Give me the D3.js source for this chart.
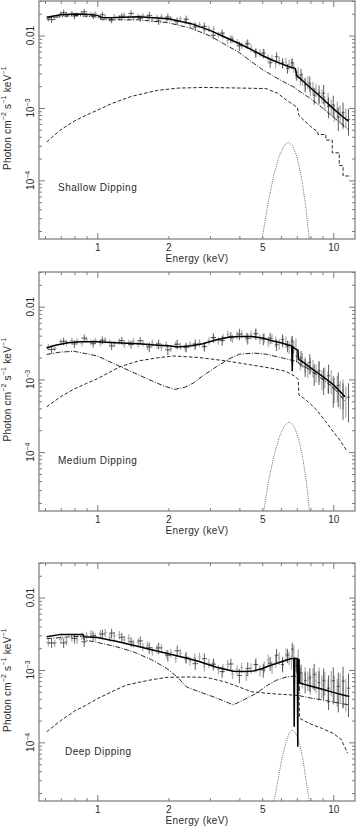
<!DOCTYPE html>
<html><head><meta charset="utf-8">
<script src="https://cdn.jsdelivr.net/npm/d3@7"></script>
<style>
body{margin:0;background:#fff;}
svg{display:block;}
text{font-family:"Liberation Sans",Arial,sans-serif;fill:#2a2a2a;}
</style>
</head><body>
<svg id="c" width="358" height="831"></svg>
<script>
// ---------------- DATA ----------------
const panelNames = ["Shallow Dipping", "Medium Dipping", "Deep Dipping"];
const xLabelTicks = [1, 2, 5, 10];
const xMajorTicks = [1, 10];
const xMinorTicks = [0.6, 0.7, 0.8, 0.9, 2, 3, 4, 5, 6, 7, 8, 9];
const yMajorTicks = [1e-4, 1e-3, 1e-2];
const yMinorTicks = [2e-5,3e-5,4e-5,5e-5,6e-5,7e-5,8e-5,9e-5,2e-4,3e-4,4e-4,5e-4,6e-4,7e-4,8e-4,9e-4,2e-3,3e-3,4e-3,5e-3,6e-3,7e-3,8e-3,9e-3,2e-2,3e-2];
const yTickLabels = [{v:1e-2, base:"0.01", exp:""}, {v:1e-3, base:"10", exp:"−3"}, {v:1e-4, base:"10", exp:"−4"}];

// energies of the two data sets (keV)
const energiesGray = [0.62,0.66,0.70,0.74,0.78,0.82,0.86,0.90,0.94,0.98,
 1.03,1.08,1.13,1.18,1.24,1.30,1.36,1.42,1.49,1.56,
 1.63,1.71,1.79,1.87,1.96,2.05,2.15,2.25,2.36,2.47,
 2.59,2.71,2.84,2.97,3.11,3.26,3.41,3.57,3.74,3.91,
 4.09,4.28,4.48,4.68,4.89,5.10,5.30,5.50,5.70,5.90,
 6.10,6.30,6.50,6.65,6.80,6.95,7.10,7.25,7.40,7.60,
 7.80,8.00,8.20,8.45,8.70,8.95,9.20,9.50,9.80,10.10,
 10.40,10.70,11.00,11.30];
const energiesBlack = [0.64,0.72,0.80,0.88,0.96,1.05,1.15,1.27,1.39,1.52,
 1.66,1.82,1.99,2.18,2.38,2.60,2.84,3.10,3.38,3.68,
 4.00,4.34,4.70,5.05,5.40,5.75,6.10,6.40,6.70,7.00,
 7.30,7.60,7.95,8.30,8.70,9.10,9.55,10.00,10.50,11.00,
 11.60];

// Shallow dipping
const shallowGrayFlux = [.0166,.0178,.0200,.0190,.0208,.0196,.0206,.0189,.0198,.0202,
 .0178,.0178,.0167,.0184,.0178,.0192,.0176,.0174,.0187,.0190,
 .0177,.0166,.0179,.0183,.0168,.0170,.0155,.0171,.0157,.0143,
 .0141,.0141,.0117,.0124,.0123,.0103,.0100,.0086,.0090,.0081,
 .0073,.0076,.0067,.0058,.0058,.0057,.0049,.0048,.0041,.0045,
 .0041,.0043,.0040,.0041,.0037,.0030,.0031,.0025,.0025,.0022,
 .0023,.0018,.0019,.0018,.00144,.00148,.00119,.00131,.00105,.00087,
 .00097,.00085,.00071,.00076];
const shallowGrayErr = [.07,.07,.07,.07,.07,.07,.07,.07,.07,.07,
 .08,.08,.08,.08,.08,.08,.08,.08,.08,.08,
 .09,.09,.09,.09,.09,.09,.09,.09,.09,.09,
 .10,.10,.10,.10,.10,.10,.10,.11,.11,.11,
 .11,.12,.12,.12,.12,.13,.13,.13,.14,.14,
 .15,.15,.16,.16,.17,.17,.18,.18,.19,.19,
 .20,.20,.21,.21,.22,.22,.23,.24,.25,.26,
 .27,.28,.29,.30];
const shallowBlackFlux = [.0166,.0207,.0186,.0213,.0187,.0194,.0164,.0185,.0202,.0173,
 .0190,.0159,.0180,.0159,.0168,.0132,.0134,.0101,.0108,.0089,
 .0072,.0077,.0058,.0057,.0042,.0051,.0042,.0035,.0042,.0028,
 .0029,.0021,.0022,.0015,.0016,.0016,.00106,.0011,.00075,.00086,
 .00069];
const shallowBlackErr = [.10,.10,.10,.10,.10,.10,.10,.10,.10,.10,
 .12,.12,.12,.12,.12,.12,.12,.12,.12,.12,
 .15,.15,.15,.15,.15,.15,.15,.15,.15,.15,
 .20,.22,.24,.26,.28,.30,.32,.34,.36,.38,.40];
const shallowModelE = [0.61,0.7,0.8,0.9,1.0,1.05,1.2,1.5,2.0,2.5,3.0,3.5,4.0,4.5,5.0,5.5,6.0,6.5,6.9,7.0,7.5,8.0,9.0,10.0,11.0,11.6];
const shallowModelF = [0.0179,0.0194,0.0198,0.0197,0.0190,0.0176,0.0177,0.0182,0.0170,0.0146,0.0118,0.0094,0.0077,0.0064,0.0053,0.0046,0.0041,0.0037,0.0035,0.0028,0.0023,0.0019,0.00135,0.00098,0.00075,0.00066];
const shallowCompAE = [0.61,0.8,1.0,1.05,1.5,2.0,2.5,3.0,4.0,4.44,5.0,6.0,6.5,6.9,7.0,8.0,9.0,10.0,11.0,11.6];
const shallowCompAF = [0.0174,0.0190,0.0180,0.0165,0.0165,0.0150,0.0126,0.0099,0.0058,0.0045,0.0034,0.0024,0.0021,0.0019,0.0018,0.00135,0.00100,0.00075,0.00058,0.00050];
const shallowCompBE = [0.61,0.7,0.8,0.9,1.0,1.15,1.4,1.8,2.2,2.8,3.5,4.5,5.2,5.8,6.3,6.8,7.05,7.15,7.6,8.2,8.6,8.6,9.3,9.3,9.9,9.9,10.6,10.6,11.0,11.0,11.9];
const shallowCompBF = [3.4e-4,5.0e-4,6.6e-4,8.0e-4,9.3e-4,1.15e-3,1.45e-3,1.75e-3,1.88e-3,1.92e-3,1.90e-3,1.87e-3,1.85e-3,1.6e-3,1.3e-3,1.1e-3,1.0e-3,7.9e-4,6.5e-4,5.2e-4,4.7e-4,4.3e-4,4.3e-4,3.6e-4,3.6e-4,2.4e-4,2.4e-4,1.6e-4,1.6e-4,1.15e-4,1.15e-4];
const shallowLineE = [4.9,5.0,5.3,5.6,5.9,6.2,6.45,6.7,7.0,7.3,7.6,7.9,8.0];
const shallowLineF = [1.2e-5,1.6e-5,5.0e-5,1.19e-4,2.17e-4,3.06e-4,3.35e-4,3.06e-4,2.17e-4,1.19e-4,5.0e-5,1.6e-5,1.2e-5];

// Medium dipping
const mediumGrayFlux = [.00281,.00270,.00329,.00314,.00346,.00337,.00314,.00353,.00327,.00343,
 .00317,.00349,.00323,.00310,.00336,.00301,.00319,.00335,.00304,.00316,
 .00285,.00318,.00295,.00278,.00302,.00267,.00300,.00286,.00272,.00305,
 .00287,.00318,.00291,.00340,.00367,.00340,.00377,.00418,.00365,.00406,
 .00421,.00382,.00410,.00422,.00359,.00371,.00329,.00364,.00333,.00307,
 .00329,.00330,.00279,.00325,.00284,.00307,.00216,.00171,.00187,.00163,
 .00140,.00157,.00146,.00125,.00133,.00103,.00111,.00097,.00098,.00076,
 .00080,.00067,.00069,.00055];
const mediumGrayErr = [.09,.09,.09,.09,.09,.09,.09,.09,.09,.09,
 .10,.10,.10,.10,.10,.10,.10,.10,.10,.10,
 .11,.11,.11,.11,.11,.11,.11,.11,.11,.11,
 .12,.12,.12,.12,.12,.12,.12,.13,.13,.13,
 .13,.14,.14,.14,.15,.15,.16,.16,.17,.17,
 .18,.18,.19,.19,.20,.20,.21,.22,.23,.24,
 .25,.26,.27,.28,.30,.31,.32,.34,.36,.38,
 .40,.42,.44,.46];
const mediumBlackFlux = [.00258,.00335,.00307,.00370,.00310,.00347,.00288,.00342,.00301,.00341,
 .00279,.00307,.00255,.00305,.00277,.00307,.00282,.00377,.00342,.00391,
 .00421,.00367,.00426,.00359,.00371,.00300,.00353,.00288,.00336,.00209,
 .00198,.00149,.00171,.00122,.00131,.00102,.00112,.00076,.00083,.00058,
 .00057];
const mediumBlackErr = [.12,.12,.12,.12,.12,.12,.12,.12,.12,.12,
 .15,.15,.15,.15,.15,.15,.15,.15,.15,.15,
 .18,.18,.18,.18,.18,.18,.18,.18,.18,.18,
 .25,.28,.30,.33,.36,.40,.43,.46,.50,.52,.55];
const mediumModelE = [0.61,0.65,0.75,0.85,1.0,1.2,1.5,1.8,2.0,2.2,2.5,2.8,3.2,3.6,4.0,4.5,5.0,5.5,6.0,6.4,6.66,6.70,6.74,6.95,7.08,7.12,7.5,8.0,9.0,10.0,11.2];
const mediumModelF = [0.0027,0.0029,0.0032,0.0033,0.0033,0.0032,0.0031,0.00295,0.0029,0.0028,0.0029,0.0031,0.0035,0.0038,0.0039,0.0039,0.0037,0.0034,0.0032,0.0030,0.0029,0.0013,0.0028,0.0026,0.0025,0.0019,0.0017,0.00145,0.0011,0.00085,0.00058];
const mediumCompAE = [0.61,0.7,0.8,1.0,1.25,1.5,1.67,1.9,2.13,2.35,2.55,2.8,3.2,3.6,4.0,4.6,5.2,6.1,6.6,7.1,7.15,8.0,9.0,10.0,11.2];
const mediumCompAF = [0.0022,0.00238,0.00243,0.0021,0.0015,0.00115,0.00098,0.00082,0.00073,0.00078,0.00089,0.00112,0.0015,0.0019,0.00222,0.0023,0.00222,0.00197,0.00185,0.00175,0.00165,0.00135,0.00100,0.00078,0.00050];
const mediumCompBE = [0.61,0.7,0.8,0.9,1.0,1.25,1.5,1.8,2.1,2.7,3.5,4.5,5.5,6.3,6.9,7.1,7.15,7.5,8.0,8.5,9.4,10.0,10.6,11.4];
const mediumCompBF = [4.2e-4,5.8e-4,7.4e-4,8.8e-4,1.02e-3,1.5e-3,1.8e-3,1.98e-3,2.1e-3,2.0e-3,1.8e-3,1.58e-3,1.42e-3,1.29e-3,1.1e-3,1.0e-3,6.1e-4,5.5e-4,4.6e-4,3.8e-4,2.5e-4,1.9e-4,1.5e-4,1.05e-4];
const mediumLineE = [4.9,5.05,5.3,5.6,5.9,6.2,6.5,6.8,7.1,7.4,7.7,7.95,8.1];
const mediumLineF = [9e-6,1.4e-5,3.8e-5,8.8e-5,1.6e-4,2.3e-4,2.6e-4,2.3e-4,1.6e-4,8.8e-5,3.8e-5,1.4e-5,9e-6];

// Deep dipping
const deepGrayFlux = [.00238,.00234,.00267,.00248,.00279,.00260,.00295,.00301,.00318,.00286,
 .00316,.00329,.00281,.00297,.00306,.00261,.00276,.00233,.00242,.00209,
 .00217,.00182,.00197,.00201,.00167,.00172,.00145,.00171,.00147,.00133,
 .00147,.00151,.00112,.00124,.00125,.00102,.00105,.00119,.00088,.00101,
 .00108,.00084,.00106,.00117,.00099,.00112,.00138,.00109,.00132,.00146,
 .00129,.00164,.00148,.00129,.00181,.00122,.00157,.00085,.00074,.00087,
 .00073,.00066,.00080,.00071,.00081,.00062,.00069,.00054,.00070,.00059,
 .00053,.00062,.00056,.00051];
const deepGrayErr = [.12,.12,.12,.12,.12,.12,.12,.12,.12,.12,
 .13,.13,.13,.13,.13,.13,.13,.13,.13,.13,
 .14,.14,.14,.14,.14,.14,.14,.14,.14,.14,
 .15,.15,.15,.15,.15,.15,.15,.15,.15,.15,
 .16,.16,.17,.17,.18,.18,.18,.19,.19,.20,
 .20,.21,.21,.22,.22,.23,.23,.24,.24,.25,
 .30,.31,.32,.33,.34,.35,.36,.37,.38,.40,
 .42,.44,.46,.48];
const deepBlackFlux = [.00236,.00236,.00273,.00245,.00297,.00313,.00323,.00283,.00245,.00252,
 .00203,.00202,.00159,.00184,.00149,.00122,.00143,.00120,.00095,.00121,
 .00084,.00105,.00119,.00100,.00124,.00160,.00119,.00160,.00194,.00115,
 .00091,.00071,.00078,.00087,.00067,.00072,.00056,.00071,.00059,.00070,
 .00056];
const deepBlackErr = [.15,.15,.15,.15,.15,.15,.15,.15,.15,.15,
 .18,.18,.18,.18,.18,.18,.18,.18,.18,.18,
 .22,.22,.22,.22,.22,.22,.22,.22,.22,.22,
 .30,.33,.36,.40,.43,.46,.50,.53,.56,.58,.60];
const deepModelE = [0.61,0.7,0.87,0.88,1.0,1.2,1.42,1.7,2.0,2.4,2.72,3.2,3.77,4.2,4.58,5.0,5.4,5.73,6.2,6.6,6.8,6.83,6.86,7.04,7.07,7.10,7.16,7.18,8.0,9.0,10.0,11.0,11.7];
const deepModelF = [0.00288,0.0031,0.0031,0.00288,0.0028,0.0025,0.0022,0.0019,0.00167,0.00145,0.0013,0.00109,0.00096,0.00095,0.00097,0.00105,0.00115,0.00123,0.00134,0.00143,0.00145,0.000164,0.00145,0.00143,0.000087,0.0014,0.0014,0.00066,0.0006,0.00054,0.00049,0.00045,0.00043];
const deepCompAE = [0.61,0.7,0.79,0.87,0.88,1.0,1.2,1.42,1.7,1.97,2.2,2.39,2.8,3.2,3.77,4.2,4.74,5.2,5.73,6.33,6.8,7.15,7.2,8.0,9.0,10.0,11.0,11.7];
const deepCompAF = [0.0027,0.0028,0.0029,0.0029,0.0026,0.0024,0.0021,0.00178,0.00138,0.00105,0.00078,0.00058,0.00048,0.00041,0.00033,0.00039,0.00048,0.0006,0.00072,0.0008,0.00082,0.00082,0.00044,0.00041,0.000385,0.00036,0.00034,0.00033];
const deepCompBE = [0.61,0.7,0.8,0.87,1.0,1.15,1.33,1.55,1.73,1.97,2.4,2.9,3.5,4.0,4.5,5.5,6.75,7.15,7.2,7.5,8.0,9.0,10.0,10.8,11.5];
const deepCompBF = [1.4e-4,2.0e-4,2.7e-4,3.1e-4,4.0e-4,5.0e-4,6.2e-4,6.9e-4,7.4e-4,7.9e-4,8.0e-4,7.9e-4,6.8e-4,5.8e-4,5.0e-4,4.7e-4,4.5e-4,4.4e-4,2.15e-4,2.0e-4,1.8e-4,1.55e-4,1.33e-4,1.1e-4,7.1e-5];
const deepLineE = [5.45,5.57,5.7,5.9,6.1,6.3,6.5,6.67,6.85,7.05,7.25,7.45,7.65,7.85,7.95,8.1];
const deepLineF = [1.1e-5,1.5e-5,2.0e-5,3.8e-5,6.6e-5,1.0e-4,1.35e-4,1.48e-4,1.4e-4,1.2e-4,8.8e-5,5.6e-5,3.1e-5,1.8e-5,1.5e-5,1.0e-5];

const panels = [
 {name: panelNames[0], grayF: shallowGrayFlux, grayErr: shallowGrayErr, blackF: shallowBlackFlux, blackErr: shallowBlackErr,
  model: [shallowModelE, shallowModelF], compA: [shallowCompAE, shallowCompAF], compB: [shallowCompBE, shallowCompBF], line: [shallowLineE, shallowLineF]},
 {name: panelNames[1], grayF: mediumGrayFlux, grayErr: mediumGrayErr, blackF: mediumBlackFlux, blackErr: mediumBlackErr,
  model: [mediumModelE, mediumModelF], compA: [mediumCompAE, mediumCompAF], compB: [mediumCompBE, mediumCompBF], line: [mediumLineE, mediumLineF]},
 {name: panelNames[2], grayF: deepGrayFlux, grayErr: deepGrayErr, blackF: deepBlackFlux, blackErr: deepBlackErr,
  model: [deepModelE, deepModelF], compA: [deepCompAE, deepCompAF], compB: [deepCompBE, deepCompBF], line: [deepLineE, deepLineF]}
];

// ---------------- LAYOUT ----------------
const xLeft = 39, xRight = 355;
const panelTop = [1, 272, 563];
const panelBottom = [239, 511, 801];
const labelX = [58, 58, 65];
const labelY = [191, 464, 755];
const xDomain = [0.566, 12.36];
const yDomain = [1.55e-5, 0.030];

const svg = d3.select("#c");
const x = d3.scaleLog().domain(xDomain).range([xLeft, xRight]);
const frameColor = "#7a7a7a";

panels.forEach((P, i) => {
  const top = panelTop[i], bot = panelBottom[i];
  const y = d3.scaleLog().domain(yDomain).range([bot, top]);
  const g = svg.append("g");
  const clipId = "clip" + i;
  svg.append("clipPath").attr("id", clipId).append("rect")
    .attr("x", xLeft).attr("y", top).attr("width", xRight - xLeft).attr("height", bot - top);
  const plot = g.append("g").attr("clip-path", `url(#${clipId})`);

  function drawData(E, F, Err, color, width, hwFrac) {
    const gg = plot.append("g").attr("stroke", color).attr("stroke-width", width).attr("fill", "none");
    E.forEach((e, j) => {
      const lo = (j > 0 ? e - E[j - 1] : E[1] - E[0]) * hwFrac;
      const hi = (j < E.length - 1 ? E[j + 1] - e : e - E[j - 1]) * hwFrac;
      gg.append("line").attr("x1", x(e - lo)).attr("x2", x(e + hi)).attr("y1", y(F[j])).attr("y2", y(F[j]));
      gg.append("line").attr("x1", x(e)).attr("x2", x(e))
        .attr("y1", y(F[j] * (1 - Err[j]))).attr("y2", y(F[j] * (1 + Err[j])));
    });
  }
  drawData(energiesGray, P.grayF, P.grayErr, "#ababab", 1.2, 0.3);
  drawData(energiesBlack, P.blackF, P.blackErr, "#333", 0.8, 0.3);

  const line = d3.line().x(d => x(d[0])).y(d => y(d[1]));
  plot.append("path").datum(d3.zip(P.line[0], P.line[1])).attr("d", line)
    .attr("fill", "none").attr("stroke", "#555").attr("stroke-width", 0.9).attr("stroke-dasharray", "1,1.2");
  plot.append("path").datum(d3.zip(P.compB[0], P.compB[1])).attr("d", line)
    .attr("fill", "none").attr("stroke", "#111").attr("stroke-width", 0.9).attr("stroke-dasharray", "3.5,2");
  plot.append("path").datum(d3.zip(P.compA[0], P.compA[1])).attr("d", line)
    .attr("fill", "none").attr("stroke", "#111").attr("stroke-width", 0.9).attr("stroke-dasharray", "5,1.5,1,1.5");
  plot.append("path").datum(d3.zip(P.model[0], P.model[1])).attr("d", line)
    .attr("fill", "none").attr("stroke", "#000").attr("stroke-width", 1.5);

  // frame
  g.append("rect").attr("x", xLeft).attr("y", top).attr("width", xRight - xLeft).attr("height", bot - top)
    .attr("fill", "none").attr("stroke", frameColor).attr("stroke-width", 1.2);

  // ticks (inward on all sides)
  function ticks(axisGen, tx, ty, vals, size) {
    const a = g.append("g").attr("transform", `translate(${tx},${ty})`)
      .call(axisGen.tickValues(vals).tickSize(-size).tickFormat(""));
    a.select(".domain").remove();
    a.selectAll("line").attr("stroke", frameColor).attr("stroke-width", 1);
  }
  ticks(d3.axisBottom(x), 0, bot, xMinorTicks, 3);
  ticks(d3.axisBottom(x), 0, bot, xMajorTicks, 6);
  ticks(d3.axisTop(x), 0, top, xMinorTicks, 3);
  ticks(d3.axisTop(x), 0, top, xMajorTicks, 6);
  ticks(d3.axisLeft(y), xLeft, 0, yMinorTicks, 3);
  ticks(d3.axisLeft(y), xLeft, 0, yMajorTicks, 6);
  ticks(d3.axisRight(y), xRight, 0, yMinorTicks, 3);
  ticks(d3.axisRight(y), xRight, 0, yMajorTicks, 6);

  // x tick labels
  const xl = g.append("g").attr("transform", `translate(0,${bot})`)
    .call(d3.axisBottom(x).tickValues(xLabelTicks).tickSize(0).tickPadding(5).tickFormat(d3.format("d")));
  xl.select(".domain").remove();
  xl.attr("font-family", null).attr("font-size", null);
  xl.selectAll("text").attr("font-size", "10px").attr("fill", "#2a2a2a");

  // x title
  g.append("text").attr("x", (xLeft + xRight) / 2).attr("y", bot + 23)
    .attr("text-anchor", "middle").attr("font-size", "10px").attr("letter-spacing", "0.4px")
    .text("Energy (keV)");

  // y tick labels
  yTickLabels.forEach(t => {
    const tx = g.append("text").attr("transform", `translate(34,${y(t.v)}) rotate(-90)`)
      .attr("text-anchor", "middle").attr("font-size", "10px");
    tx.append("tspan").text(t.base);
    if (t.exp) tx.append("tspan").attr("dy", -4.5).attr("font-size", "7px").text(t.exp);
  });

  // y title
  const yt = g.append("text").attr("transform", `translate(10.5,${(top + bot) / 2 - 2}) rotate(-90)`)
    .attr("text-anchor", "middle").attr("font-size", "10px").attr("letter-spacing", "0.2px");
  const parts = [["Photon cm", 0, null], ["−2", -4.5, "7px"], [" s", 4.5, null], ["−1", -4.5, "7px"], [" keV", 4.5, null], ["−1", -4.5, "7px"]];
  parts.forEach(p => {
    const ts = yt.append("tspan").attr("dy", p[1]).text(p[0]);
    if (p[2]) ts.attr("font-size", p[2]);
  });

  // panel label
  g.append("text").attr("x", labelX[i]).attr("y", labelY[i]).attr("font-size", "10px")
    .attr("letter-spacing", "0.5px").text(P.name);
});
</script>
</body></html>
